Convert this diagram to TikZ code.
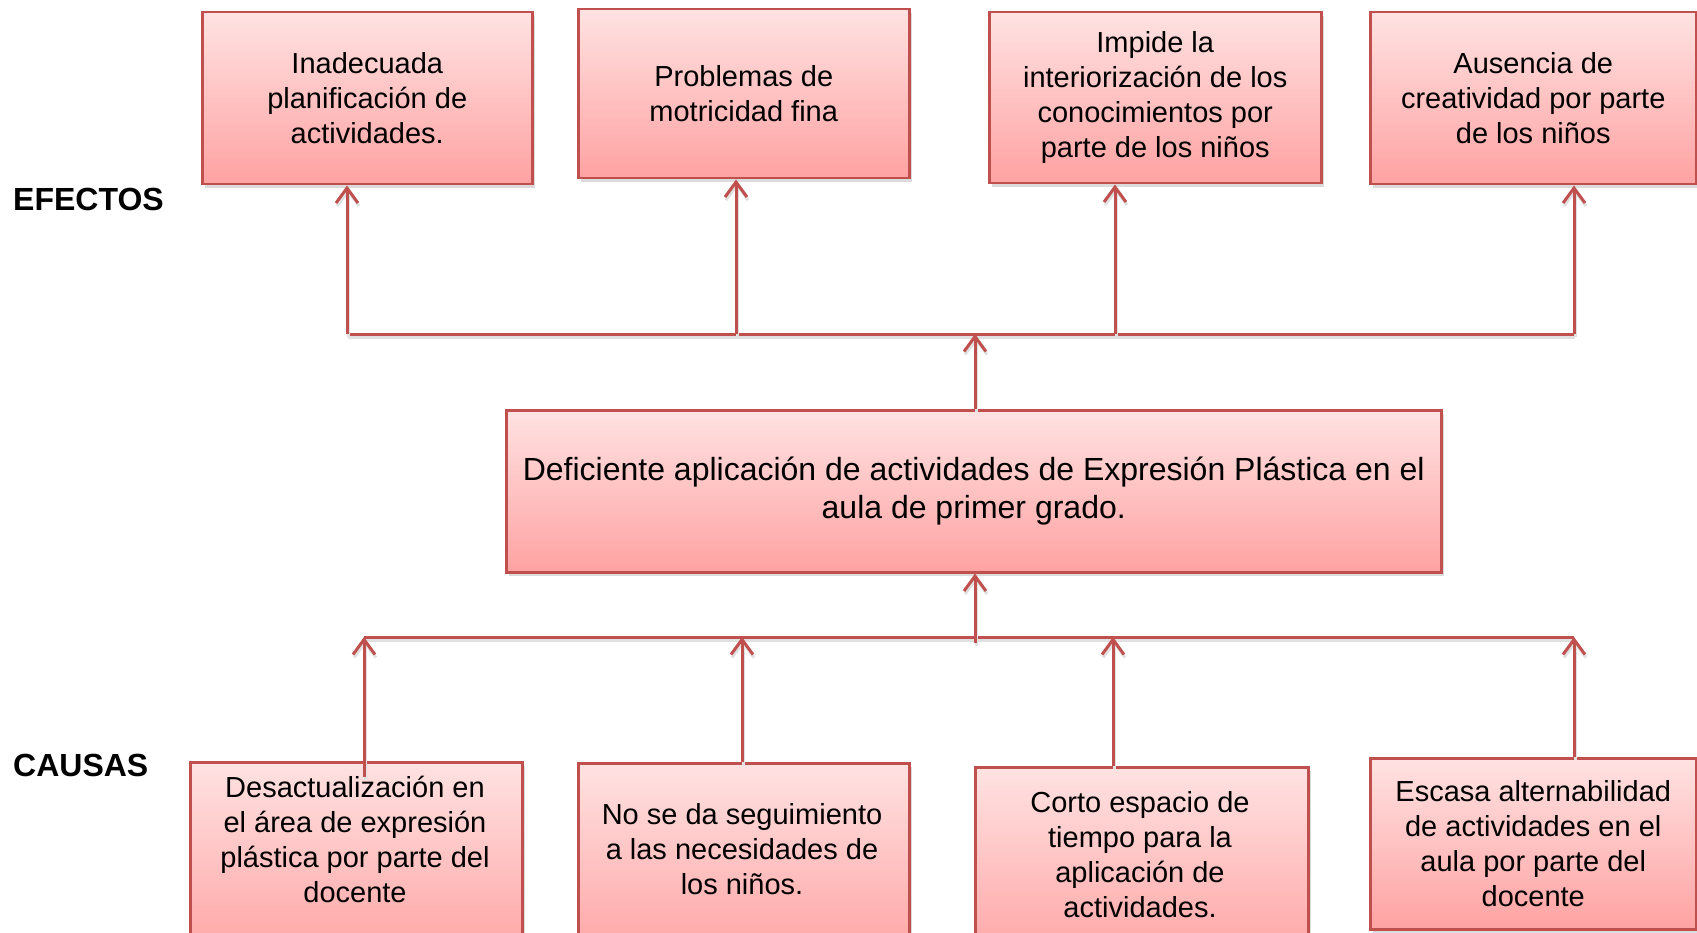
\documentclass[tikz,border=0pt]{standalone}
\usepackage{fontspec}
\setmainfont{Liberation Sans}
\usetikzlibrary{arrows.meta,shadows}
\definecolor{boxred}{HTML}{C0504D}
\definecolor{boxtop}{HTML}{FFE2E2}
\definecolor{boxbot}{HTML}{FFA2A2}
\begin{document}
\begin{tikzpicture}[x=1pt,y=-1pt,
  box/.style={rectangle, draw=boxred, line width=2.5pt, top color=boxtop, bottom color=boxbot,
    anchor=north west, inner sep=0pt, align=center, font=\fontsize{29}{35}\selectfont,
    drop shadow={shadow xshift=2.5pt, shadow yshift=-4pt, opacity=0.28}},
  boxtext/.style={inner sep=0pt, align=center, font=\fontsize{29}{35}\selectfont},
  bigtext/.style={font=\fontsize{32}{38.5}\selectfont},
  head/.style={anchor=west, inner sep=0pt, font=\fontsize{32}{38}\selectfont\bfseries},
  link/.style={draw=boxred, line width=3pt,
    preaction={draw=black!12, line width=3pt, transform canvas={xshift=1pt, yshift=-3pt}}},
  arr/.style={link, -{Straight Barb[length=15pt,width=22pt]}}
]
\useasboundingbox (0,0) rectangle (1697,933);
\clip (0,0) rectangle (1697,933);
\fill[white] (0,0) rectangle (1697,933);

% headings
\node[head] (ef) at (13,199) {EFECTOS};
\node[head] (ca) at (13,765) {CAUSAS};

% effects
\node[box, minimum width=330pt, minimum height=172pt] (E1) at (201,11) {Inadecuada\\ planificación de\\ actividades.};
\node[box, minimum width=331pt, minimum height=169pt] (E2) at (577,8) {Problemas de\\ motricidad fina};
\node[box, minimum width=332pt, minimum height=171pt] (E3) at (988,11) {Impide la\\ interiorización de los\\ conocimientos por\\ parte de los niños};
\node[box, minimum width=326pt, minimum height=172pt] (E4) at (1369,11) {Ausencia de\\ creatividad por parte\\ de los niños};

% central problem
\node[box, bigtext, minimum width=935pt, minimum height=162pt] (C) at (505,409) {Deficiente aplicación de actividades de Expresión Plástica en el\\ aula de primer grado.};

% effects connectors
\coordinate (e1) at (347,334);
\coordinate (e2) at (736,334);
\coordinate (e3) at (1115,334);
\coordinate (e4) at (1574,334);
\coordinate (ec) at (975,334);
\draw[link] (e1) -- (e4);
\draw[arr] (e1) -- (e1 |- E1.south);
\draw[arr] (e2) -- (e2 |- E2.south);
\draw[arr] (e3) -- (e3 |- E3.south);
\draw[arr] (e4) -- (e4 |- E4.south);
\draw[arr] (ec |- C.north) -- (ec);

% causes connectors (lines first, boxes drawn over them)
\coordinate (k1) at (364,637);
\coordinate (k2) at (742,637);
\coordinate (k3) at (1113,637);
\coordinate (k4) at (1574,637);
\coordinate (kc) at (975,643);
\coordinate (k1s) at (364,777);
\draw[link] (k1) -- (k4);
\draw[arr] (kc) -- (kc |- C.south);

% causes
\node[box, minimum width=332pt, minimum height=200pt] (K1) at (189,761) {};
\node[box, minimum width=331pt, minimum height=200pt] (K2) at (577,762) {};
\node[box, minimum width=333pt, minimum height=200pt] (K3) at (974,766) {};
\node[box, minimum width=326pt, minimum height=171pt] (K4) at (1369,757) {Escasa alternabilidad\\ de actividades en el\\ aula por parte del\\ docente};

\draw[arr] (k1s) -- (k1);
\draw[arr] (k2 |- K2.north) -- (k2);
\draw[arr] (k3 |- K3.north) -- (k3);
\draw[arr] (k4 |- K4.north) -- (k4);

\node[boxtext] (K1t) at (355,839) {Desactualización en\\ el área de expresión\\ plástica por parte del\\ docente};
\node[boxtext] (K2t) at (742,849) {No se da seguimiento\\ a las necesidades de\\ los niños.};
\node[boxtext] (K3t) at (1140,855) {Corto espacio de\\ tiempo para la\\ aplicación de\\ actividades.};
\end{tikzpicture}
\end{document}
